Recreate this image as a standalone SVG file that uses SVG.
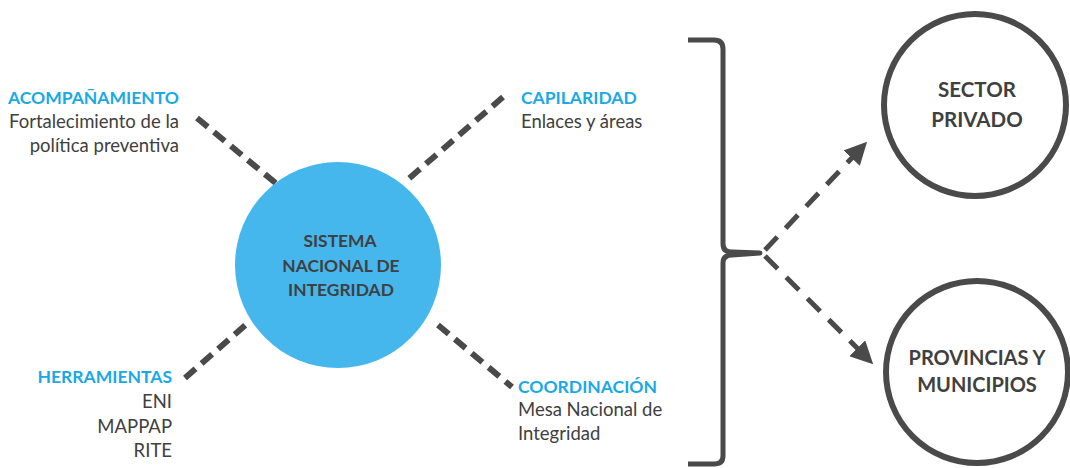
<svg xmlns="http://www.w3.org/2000/svg" width="1070" height="468" viewBox="0 0 1070 468">
<style>
.t{font-family:Lato,"Open Sans","Liberation Sans",sans-serif;font-size:18.5px;fill:#404040}
.h{font-family:Lato,"Open Sans","Liberation Sans",sans-serif;font-size:17.5px;font-weight:bold;fill:#1aa9e6}
.c{font-family:Lato,"Open Sans","Liberation Sans",sans-serif;font-weight:bold;fill:#404040;text-anchor:middle}
.d{stroke:#4a4a4a;stroke-width:6;stroke-dasharray:14 8;fill:none}
.a{stroke:#4a4a4a;stroke-width:5;stroke-dasharray:18 12;fill:none}
.r{text-anchor:end}
</style>
<defs>
<marker id="ah" viewBox="0 0 10 10" refX="8" refY="5" markerWidth="4.5" markerHeight="4.5" orient="auto" markerUnits="strokeWidth">
<path d="M0,0 L10,5 L0,10 z" fill="#4a4a4a"/>
</marker>
</defs>
<rect width="1070" height="468" fill="#ffffff"/>
<g id="connectors">
<line class="d" x1="197" y1="118" x2="278" y2="185"/>
<line class="d" x1="503" y1="97" x2="405" y2="182"/>
<line class="d" x1="185" y1="378" x2="249" y2="322"/>
<line class="d" x1="438" y1="325" x2="512" y2="387"/>
<path d="M688,40 L714,40 Q723,40 723,49 L723,244 Q723,252 732,252 L760,253 L732,255 Q723,255 723,263 L723,456 Q723,464 714,464 L688,464" fill="none" stroke="#4a4a4a" stroke-width="5" stroke-linejoin="round"/>
<line class="a" x1="765" y1="250" x2="864" y2="145" marker-end="url(#ah)"/>
<line class="a" x1="765" y1="256" x2="870" y2="361" marker-end="url(#ah)"/>
</g>
<g id="center">
<circle cx="338" cy="265" r="103" fill="#45b7ec"/>
<text class="c" font-size="17.4" x="340" y="247">SISTEMA</text>
<text class="c" font-size="17.4" x="341" y="272">NACIONAL DE</text>
<text class="c" font-size="17.4" x="341" y="296">INTEGRIDAD</text>
</g>
<g id="acompanamiento">
<text class="h r" x="179" y="104">ACOMPAÑAMIENTO</text>
<text class="t r" x="179" y="128">Fortalecimiento de la</text>
<text class="t r" x="179" y="152">política preventiva</text>
</g>
<g id="capilaridad">
<text class="h" x="521" y="104">CAPILARIDAD</text>
<text class="t" x="521" y="128">Enlaces y áreas</text>
</g>
<g id="herramientas">
<text class="h r" x="172" y="383">HERRAMIENTAS</text>
<text class="t r" x="172" y="408">ENI</text>
<text class="t r" x="172" y="433">MAPPAP</text>
<text class="t r" x="172" y="457">RITE</text>
</g>
<g id="coordinacion">
<text class="h" x="518" y="393">COORDINACIÓN</text>
<text class="t" x="518" y="416">Mesa Nacional de</text>
<text class="t" x="518" y="440">Integridad</text>
</g>
<g id="sector-privado">
<circle cx="975" cy="105" r="91" fill="#ffffff" stroke="#4a4a4a" stroke-width="6"/>
<text class="c" font-size="20.5" x="977" y="97">SECTOR</text>
<text class="c" font-size="20.5" x="977" y="127">PRIVADO</text>
</g>
<g id="provincias">
<circle cx="977" cy="372" r="91" fill="#ffffff" stroke="#4a4a4a" stroke-width="6"/>
<text class="c" font-size="20" x="977" y="365">PROVINCIAS Y</text>
<text class="c" font-size="20" x="977" y="392">MUNICIPIOS</text>
</g>
</svg>
